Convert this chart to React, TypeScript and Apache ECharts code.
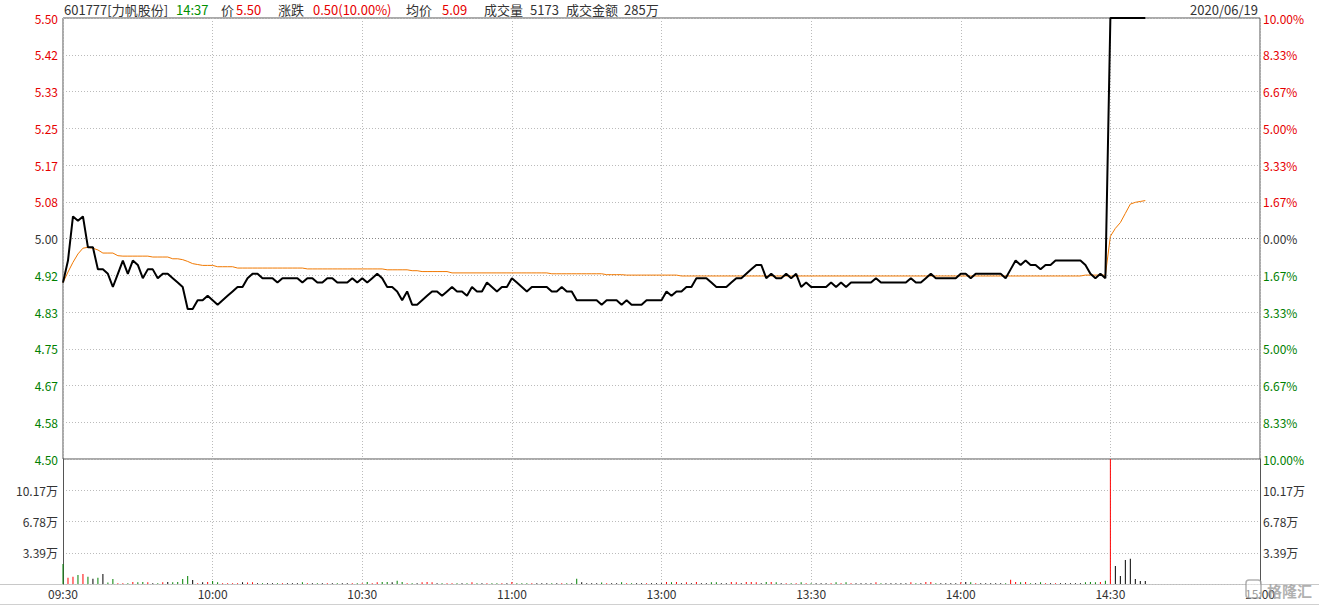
import React, { useEffect, useRef } from 'react';
import * as echarts from 'echarts';

// ---------- data ----------
const preClose = 5.0;
const priceMin = 4.5;
const priceMax = 5.5;
const priceStep = 1 / 12;
const volMax = 135600;
const volStep = 33900;

const xTickLabels = ['09:30', '10:00', '10:30', '11:00', '13:00', '13:30', '14:00', '14:30', '15:00'];

const headerTexts = ['601777[力帆股份]', '14:37', '价', '5.50', '涨跌', '0.50(10.00%)', '均价', '5.09', '成交量', '5173', '成交金额', '285万'];
const headerColorKeys = ['d', 'g', 'd', 'r', 'd', 'r', 'd', 'r', 'd', 'd', 'd', 'd'];
const dateText = '2020/06/19';
const watermarkText = '格隆汇';

const prices = [
  4.90, 4.95, 5.05, 5.04, 5.05, 4.98, 4.98, 4.93, 4.93, 4.92,
  4.89, 4.92, 4.95, 4.92, 4.95, 4.94, 4.91, 4.93, 4.93, 4.91,
  4.92, 4.92, 4.91, 4.90, 4.89, 4.84, 4.84, 4.86, 4.86, 4.87,
  4.86, 4.85, 4.86, 4.87, 4.88, 4.89, 4.89, 4.91, 4.92, 4.92,
  4.91, 4.91, 4.91, 4.90, 4.91, 4.91, 4.91, 4.91, 4.90, 4.91,
  4.91, 4.90, 4.90, 4.91, 4.91, 4.90, 4.90, 4.90, 4.91, 4.90,
  4.91, 4.90, 4.91, 4.92, 4.91, 4.89, 4.89, 4.88, 4.86, 4.88,
  4.85, 4.85, 4.86, 4.87, 4.88, 4.88, 4.87, 4.88, 4.89, 4.88,
  4.88, 4.87, 4.89, 4.88, 4.88, 4.90, 4.89, 4.88, 4.89, 4.89,
  4.91, 4.90, 4.89, 4.88, 4.89, 4.89, 4.89, 4.89, 4.88, 4.88,
  4.89, 4.88, 4.88, 4.86, 4.86, 4.86, 4.86, 4.86, 4.85, 4.86,
  4.86, 4.86, 4.85, 4.86, 4.85, 4.85, 4.85, 4.86, 4.86, 4.86,
  4.86, 4.88, 4.87, 4.88, 4.88, 4.89, 4.89, 4.91, 4.91, 4.91,
  4.90, 4.89, 4.89, 4.89, 4.90, 4.91, 4.91, 4.92, 4.93, 4.94,
  4.94, 4.91, 4.92, 4.91, 4.91, 4.92, 4.91, 4.92, 4.89, 4.90,
  4.89, 4.89, 4.89, 4.89, 4.90, 4.89, 4.90, 4.89, 4.90, 4.90,
  4.90, 4.90, 4.90, 4.91, 4.90, 4.90, 4.90, 4.90, 4.90, 4.90,
  4.91, 4.90, 4.90, 4.91, 4.92, 4.91, 4.91, 4.91, 4.91, 4.91,
  4.92, 4.92, 4.91, 4.92, 4.92, 4.92, 4.92, 4.92, 4.92, 4.91,
  4.93, 4.95, 4.94, 4.95, 4.94, 4.94, 4.93, 4.94, 4.94, 4.95,
  4.95, 4.95, 4.95, 4.95, 4.95, 4.94, 4.92, 4.91, 4.92, 4.91,
  5.50, 5.50, 5.50, 5.50, 5.50, 5.50, 5.50, 5.50,
];

const avgPrices = [
  4.900, 4.924, 4.946, 4.965, 4.978, 4.980, 4.978, 4.974, 4.967, 4.967,
  4.967, 4.961, 4.960, 4.960, 4.960, 4.960, 4.960, 4.960, 4.958, 4.958,
  4.958, 4.958, 4.954, 4.954, 4.952, 4.948, 4.943, 4.941, 4.939, 4.939,
  4.939, 4.936, 4.936, 4.936, 4.936, 4.933, 4.933, 4.933, 4.933, 4.933,
  4.933, 4.933, 4.933, 4.933, 4.933, 4.933, 4.933, 4.933, 4.933, 4.931,
  4.931, 4.931, 4.931, 4.931, 4.931, 4.931, 4.931, 4.931, 4.931, 4.931,
  4.931, 4.931, 4.931, 4.931, 4.931, 4.929, 4.929, 4.929, 4.929, 4.929,
  4.927, 4.927, 4.925, 4.925, 4.925, 4.925, 4.925, 4.925, 4.922, 4.922,
  4.922, 4.922, 4.922, 4.922, 4.922, 4.922, 4.922, 4.922, 4.922, 4.922,
  4.922, 4.922, 4.922, 4.922, 4.922, 4.922, 4.922, 4.922, 4.920, 4.920,
  4.920, 4.920, 4.920, 4.920, 4.920, 4.920, 4.920, 4.920, 4.920, 4.918,
  4.918, 4.918, 4.918, 4.917, 4.917, 4.917, 4.917, 4.917, 4.917, 4.917,
  4.917, 4.917, 4.917, 4.917, 4.915, 4.915, 4.915, 4.915, 4.915, 4.915,
  4.915, 4.915, 4.915, 4.915, 4.915, 4.915, 4.915, 4.915, 4.915, 4.915,
  4.915, 4.915, 4.915, 4.915, 4.915, 4.915, 4.915, 4.915, 4.915, 4.915,
  4.915, 4.915, 4.915, 4.915, 4.915, 4.915, 4.915, 4.915, 4.915, 4.915,
  4.915, 4.915, 4.915, 4.915, 4.915, 4.915, 4.915, 4.915, 4.915, 4.915,
  4.915, 4.915, 4.915, 4.915, 4.915, 4.915, 4.915, 4.915, 4.915, 4.915,
  4.915, 4.915, 4.915, 4.915, 4.915, 4.915, 4.915, 4.915, 4.915, 4.915,
  4.915, 4.915, 4.915, 4.915, 4.915, 4.915, 4.915, 4.915, 4.915, 4.915,
  4.915, 4.915, 4.915, 4.915, 4.915, 4.917, 4.917, 4.917, 4.917, 4.917,
  5.005, 5.023, 5.036, 5.057, 5.078, 5.082, 5.084, 5.086,
];

const volumes = [
  21700, 6900, 8000, 9800, 10800, 8000, 5800, 6900, 10800, 1500,
  5400, 800, 700, 800, 2200, 2000, 2100, 2000, 700, 800,
  2000, 2200, 2000, 2100, 5400, 8700, 4300, 800, 2000, 2100,
  3200, 2000, 800, 900, 800, 900, 2000, 1500, 1800, 700,
  800, 700, 900, 800, 700, 800, 700, 900, 2000, 800,
  700, 800, 700, 900, 800, 700, 800, 700, 800, 900,
  800, 2100, 900, 2000, 2200, 2100, 2000, 3600, 2200, 900,
  800, 900, 2000, 2100, 2000, 800, 900, 800, 900, 800,
  900, 800, 2000, 900, 800, 900, 800, 900, 800, 900,
  2100, 800, 900, 800, 900, 800, 900, 800, 900, 800,
  900, 800, 900, 5800, 1800, 900, 800, 900, 1500, 800,
  900, 800, 2000, 900, 800, 900, 800, 900, 800, 900,
  800, 2200, 2000, 2100, 900, 2000, 800, 2200, 900, 800,
  1800, 2000, 800, 900, 2100, 2000, 800, 2200, 2100, 2000,
  900, 2200, 2100, 2000, 800, 900, 800, 900, 2000, 800,
  900, 800, 900, 800, 900, 2000, 900, 2000, 800, 900,
  800, 900, 800, 2000, 900, 800, 900, 800, 900, 800,
  2000, 800, 900, 2100, 2200, 800, 900, 800, 900, 800,
  2000, 2100, 2000, 900, 800, 900, 800, 900, 800, 900,
  4700, 2200, 2000, 2100, 800, 900, 2000, 900, 800, 900,
  800, 900, 800, 900, 800, 2000, 2100, 2000, 2100, 3600,
  150000, 19500, 8700, 26000, 27500, 5400, 3200, 3200,
];

// ---------- helpers ----------
function pad(n: number) { return n < 10 ? '0' + n : '' + n; }
function buildTimes(): string[] {
  const t: string[] = [];
  for (let m = 0; m <= 120; m++) { const tot = 9 * 60 + 30 + m; t.push(pad(Math.floor(tot / 60)) + ':' + pad(tot % 60)); }
  for (let m = 1; m <= 120; m++) { const tot = 13 * 60 + m; t.push(pad(Math.floor(tot / 60)) + ':' + pad(tot % 60)); }
  return t;
}

const RED = '#e60000';
const GREEN = '#008000';
const DARK = '#333333';
const FONT = "'Noto Sans CJK SC', 'Noto Sans', sans-serif";

function priceColor(v: any) {
  const n = Number(v);
  if (n > preClose + 1e-6) return RED;
  if (n < preClose - 1e-6) return GREEN;
  return DARK;
}

export default function App() {
  const ref = useRef<HTMLDivElement>(null);
  useEffect(() => {
    if (!ref.current) return;
    const chart = echarts.init(ref.current, undefined, { renderer: 'svg' });
    const times = buildTimes();
    const isTick = (index: number) => index % 30 === 0;
    const dotted = { color: '#bbbbbb', type: [1, 2] as any, width: 1 };

    const headerX = [64, 176, 221, 236, 278, 313, 406, 442, 484, 530, 566, 624];
    const colorMap: Record<string, string> = { d: DARK, g: '#009000', r: RED };
    const headerGraphics = headerTexts.map((t, i) => ({
      type: 'text', x: headerX[i], y: 9,
      style: { text: t, fill: colorMap[headerColorKeys[i]], font: `13px ${FONT}`, verticalAlign: 'middle', align: 'left' },
    }));

    const option: any = {
      animation: false,
      grid: [
        { left: 63, top: 18, width: 1197, height: 441, show: true, borderColor: '#555', borderWidth: 1, backgroundColor: 'transparent' },
        { left: 63, top: 459, width: 1197, height: 125 },
      ],
      xAxis: [
        {
          type: 'category', gridIndex: 0, data: times, boundaryGap: false,
          axisLine: { show: false }, axisTick: { show: false }, axisLabel: { show: false },
          splitLine: { show: true, interval: isTick, lineStyle: dotted },
        },
        {
          type: 'category', gridIndex: 1, data: times, boundaryGap: false,
          axisLine: { show: false }, axisTick: { show: false },
          axisLabel: {
            show: true, interval: isTick, margin: 3, color: DARK, fontSize: 12, fontFamily: FONT,
            formatter: (_v: string, i: number) => xTickLabels[i / 30] ?? '',
          },
          splitLine: { show: true, interval: isTick, lineStyle: dotted },
        },
      ],
      yAxis: [
        {
          type: 'value', gridIndex: 0, position: 'left', min: priceMin, max: priceMax, interval: priceStep,
          axisLine: { show: false }, axisTick: { show: false },
          axisLabel: { margin: 5, fontSize: 12, fontFamily: FONT, color: priceColor, formatter: (v: number) => v.toFixed(2) },
          splitLine: { show: true, lineStyle: dotted },
        },
        {
          type: 'value', gridIndex: 0, position: 'right', min: priceMin, max: priceMax, interval: priceStep,
          axisLine: { show: false }, axisTick: { show: false },
          axisLabel: {
            margin: 3, fontSize: 12, fontFamily: FONT, color: priceColor,
            formatter: (v: number) => Math.abs(((v - preClose) / preClose) * 100).toFixed(2) + '%',
          },
          splitLine: { show: false },
        },
        {
          type: 'value', gridIndex: 1, position: 'left', min: 0, max: volMax, interval: volStep,
          axisLine: { show: true, lineStyle: { color: '#555' } }, axisTick: { show: false },
          axisLabel: {
            margin: 5, fontSize: 12, fontFamily: FONT, color: DARK, showMinLabel: false, showMaxLabel: false,
            formatter: (v: number) => (v / 10000).toFixed(2) + '万',
          },
          splitLine: { show: true, lineStyle: dotted },
        },
        {
          type: 'value', gridIndex: 1, position: 'right', min: 0, max: volMax, interval: volStep,
          axisLine: { show: true, lineStyle: { color: '#555' } }, axisTick: { show: false },
          axisLabel: {
            margin: 3, fontSize: 12, fontFamily: FONT, color: DARK, showMinLabel: false, showMaxLabel: false,
            formatter: (v: number) => (v / 10000).toFixed(2) + '万',
          },
          splitLine: { show: false },
        },
      ],
      series: [
        {
          type: 'line', name: '均价', xAxisIndex: 0, yAxisIndex: 0, data: avgPrices,
          showSymbol: false, symbol: 'none', lineStyle: { color: '#f07800', width: 1 }, z: 3,
        },
        {
          type: 'line', name: '价格', xAxisIndex: 0, yAxisIndex: 0, data: prices,
          showSymbol: false, symbol: 'none', lineStyle: { color: '#000', width: 2 }, z: 4,
          markLine: {
            silent: true, symbol: 'none', label: { show: false },
            lineStyle: { color: '#888', type: [1, 2], width: 1 },
            data: [{ yAxis: preClose }],
          },
        },
        {
          type: 'bar', name: '成交量', xAxisIndex: 1, yAxisIndex: 2, data: volumes, barWidth: 1,
          itemStyle: {
            color: (p: any) => {
              const i = p.dataIndex;
              const prev = i === 0 ? preClose : prices[i - 1];
              const cur = prices[i];
              if (cur > prev + 1e-9) return '#ff0000';
              if (cur < prev - 1e-9) return GREEN;
              return '#000';
            },
          },
        },
      ],
      graphic: [
        ...headerGraphics,
        { type: 'text', x: 1258, y: 9, style: { text: dateText, fill: DARK, font: `13px ${FONT}`, verticalAlign: 'middle', align: 'right' } },
        { type: 'line', shape: { x1: 0, y1: 584.5, x2: 1319, y2: 584.5 }, style: { stroke: '#c8c8c8', lineWidth: 1 } },
        { type: 'line', shape: { x1: 0, y1: 604.5, x2: 1319, y2: 604.5 }, style: { stroke: '#d0d0d0', lineWidth: 1 } },
        {
          type: 'rect', shape: { x: 1246, y: 580, width: 15, height: 18, r: 3 },
          style: { fill: 'rgba(255,255,255,0.5)', stroke: 'rgba(150,150,150,0.75)', lineWidth: 1.5 }, z: 100,
        },
        {
          type: 'text', x: 1267, y: 590,
          style: { text: watermarkText, fill: 'rgba(150,150,150,0.75)', font: `bold 15px ${FONT}`, verticalAlign: 'middle', align: 'left' }, z: 100,
        },
      ],
    };
    chart.setOption(option);
    return () => chart.dispose();
  }, []);
  return <div ref={ref} style={{ position: 'absolute', left: 0, top: 0, width: 1319, height: 606 }} />;
}
